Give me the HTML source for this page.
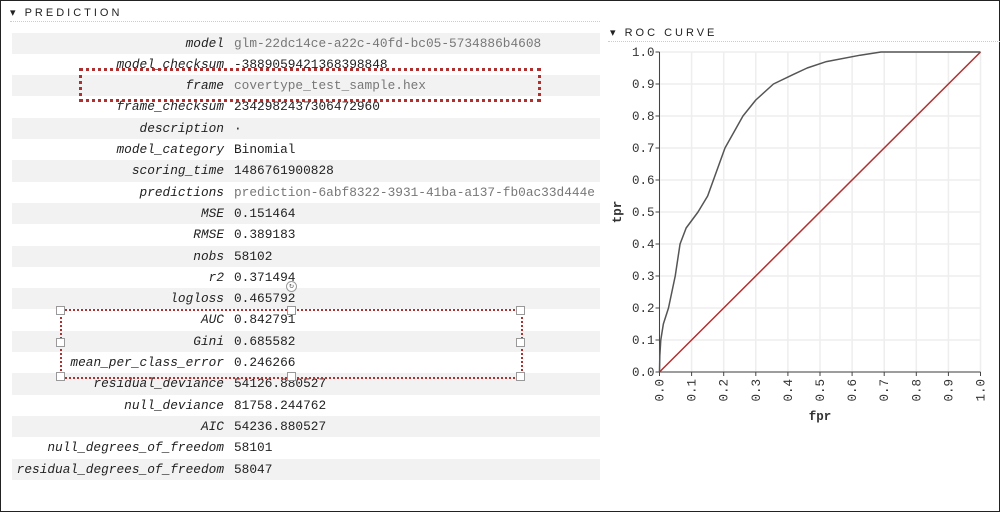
<!DOCTYPE html>
<html><head><meta charset="utf-8"><style>
body{margin:0;width:1000px;height:512px;background:#fff;overflow:hidden;position:relative;font-family:"Liberation Mono",monospace}
#frame{position:absolute;left:0;top:0;width:998px;height:510px;border:1px solid #222}
.hdr{position:absolute;font-family:"Liberation Sans",sans-serif;font-size:11px;letter-spacing:3px;color:#222}
.row{position:absolute;left:12px;width:588px;height:21.3px;font-size:12.8px;line-height:21.3px;color:#222}
.row.sh{background:#f2f2f2}
.lab{position:absolute;right:376px;font-style:italic}
.val{position:absolute;left:222px;white-space:nowrap}
.gray{color:#777}
.sel{position:absolute;border:3px dotted #b03030}
.h{position:absolute;width:7px;height:7px;border:1px solid #999;background:#fff}
</style></head><body>
<div id="frame"></div>
<div class="hdr" style="left:10px;top:6px">▾ PREDICTION</div>
<div style="position:absolute;left:10px;top:21px;width:590px;border-top:1px dotted #ccc"></div>
<div id="tbl"></div>
<div class="sel" style="left:79px;top:68px;width:456px;height:28px"></div>
<div class="sel" style="left:60px;top:309px;width:459px;height:66px;border-width:2px"></div>
<div class="h" style="left:56px;top:306px"></div>
<div class="h" style="left:287px;top:306px"></div>
<div class="h" style="left:516px;top:306px"></div>
<div class="h" style="left:56px;top:338px"></div>
<div class="h" style="left:516px;top:338px"></div>
<div class="h" style="left:56px;top:372px"></div>
<div class="h" style="left:287px;top:372px"></div>
<div class="h" style="left:516px;top:372px"></div>
<div style="position:absolute;left:286px;top:281px;width:9px;height:9px;border:1px solid #999;border-radius:50%;font-size:8px;line-height:9px;text-align:center;color:#666;background:#fff">↻</div>
<div class="hdr" style="left:610px;top:26px">▾ ROC CURVE</div>
<div style="position:absolute;left:608px;top:41px;width:392px;border-top:1px dotted #ccc"></div>
<svg id="roc" width="1000" height="512" style="position:absolute;left:0;top:0"></svg>
<script>
const rows=[["model","glm-22dc14ce-a22c-40fd-bc05-5734886b4608",1],["model_checksum","-3889059421368398848",0],["frame","covertype_test_sample.hex",1],["frame_checksum","2342982437306472960",0],["description","·",0],["model_category","Binomial",0],["scoring_time","1486761900828",0],["predictions","prediction-6abf8322-3931-41ba-a137-fb0ac33d444e",1],["MSE","0.151464",0],["RMSE","0.389183",0],["nobs","58102",0],["r2","0.371494",0],["logloss","0.465792",0],["AUC","0.842791",0],["Gini","0.685582",0],["mean_per_class_error","0.246266",0],["residual_deviance","54126.880527",0],["null_deviance","81758.244762",0],["AIC","54236.880527",0],["null_degrees_of_freedom","58101",0],["residual_degrees_of_freedom","58047",0]];
const tbl=document.getElementById('tbl');
rows.forEach((r,i)=>{const d=document.createElement('div');d.className='row'+(i%2==0?' sh':'');d.style.top=(32.5+i*21.3)+'px';


d.innerHTML='<span class="lab">'+r[0]+'</span><span class="val'+(r[2]?' gray':'')+'">'+r[1]+'</span>';tbl.appendChild(d);});

const fpr=[0,0.001,0.004,0.012,0.028,0.049,0.064,0.083,0.12,0.15,0.168,0.204,0.26,0.30,0.355,0.417,0.46,0.52,0.625,0.69,0.8,1.0];
const tpr=[0,0.05,0.1,0.15,0.2,0.3,0.4,0.45,0.5,0.55,0.6,0.7,0.8,0.85,0.9,0.93,0.95,0.97,0.99,1.0,1.0,1.0];
const ticks=[0,0.1,0.2,0.3,0.4,0.5,0.6,0.7,0.8,0.9,1.0];
const X0=659.5,X1=980.5,Y0=372,Y1=52;
const sx=v=>X0+(X1-X0)*v, sy=v=>Y0-(Y0-Y1)*v;
const svg=document.getElementById('roc');const NS='http://www.w3.org/2000/svg';
function mk(t,a,name,txt){const e=document.createElementNS(NS,t);for(const k in a)e.setAttribute(k,a[k]);if(txt!=null)e.textContent=txt;svg.appendChild(e);return e;}
ticks.forEach(t=>{
 mk('line',{x1:sx(t),x2:sx(t),y1:Y1,y2:Y0,stroke:'#eee','stroke-width':1.5},'x-gridline');
 mk('line',{x1:X0,x2:X1,y1:sy(t),y2:sy(t),stroke:'#eee','stroke-width':1.5},'y-gridline');
 mk('line',{x1:X0-4,x2:X0,y1:sy(t),y2:sy(t),stroke:'#444'},'y-tick');
 mk('text',{x:X0-5,y:sy(t)+4,'text-anchor':'end','font-size':12.5,fill:'#333','font-family':'Liberation Mono, monospace'},'y-tick-label',t.toFixed(1));
 mk('line',{x1:sx(t),x2:sx(t),y1:Y0,y2:Y0+4,stroke:'#444'},'x-tick');
 mk('text',{x:0,y:0,transform:'translate('+(sx(t)+4)+','+(Y0+7)+') rotate(-90)','text-anchor':'end','font-size':12.5,fill:'#333','font-family':'Liberation Mono, monospace'},'x-tick-label',t.toFixed(1));
});
mk('line',{x1:X0,x2:X0,y1:Y1,y2:Y0,stroke:'#444'},'y-axis');
mk('line',{x1:X0,x2:X1,y1:Y0,y2:Y0,stroke:'#444'},'x-axis');
mk('line',{x1:sx(0),y1:sy(0),x2:sx(1),y2:sy(1),stroke:'#b03030','stroke-width':1.5},'diagonal-line');
mk('path',{d:fpr.map((v,i)=>(i?'L':'M')+sx(v)+','+sy(tpr[i])).join(''),fill:'none',stroke:'#555','stroke-width':1.5,'stroke-linejoin':'round'},'roc-curve');
mk('text',{x:820,y:420,'text-anchor':'middle','font-size':12.5,'font-weight':'bold',fill:'#333','font-family':'Liberation Mono, monospace'},'x-axis-title','fpr');
mk('text',{x:0,y:0,transform:'translate(621,212) rotate(-90)','text-anchor':'middle','font-size':12.5,'font-weight':'bold',fill:'#333','font-family':'Liberation Mono, monospace'},'y-axis-title','tpr');
</script>
</body></html>
